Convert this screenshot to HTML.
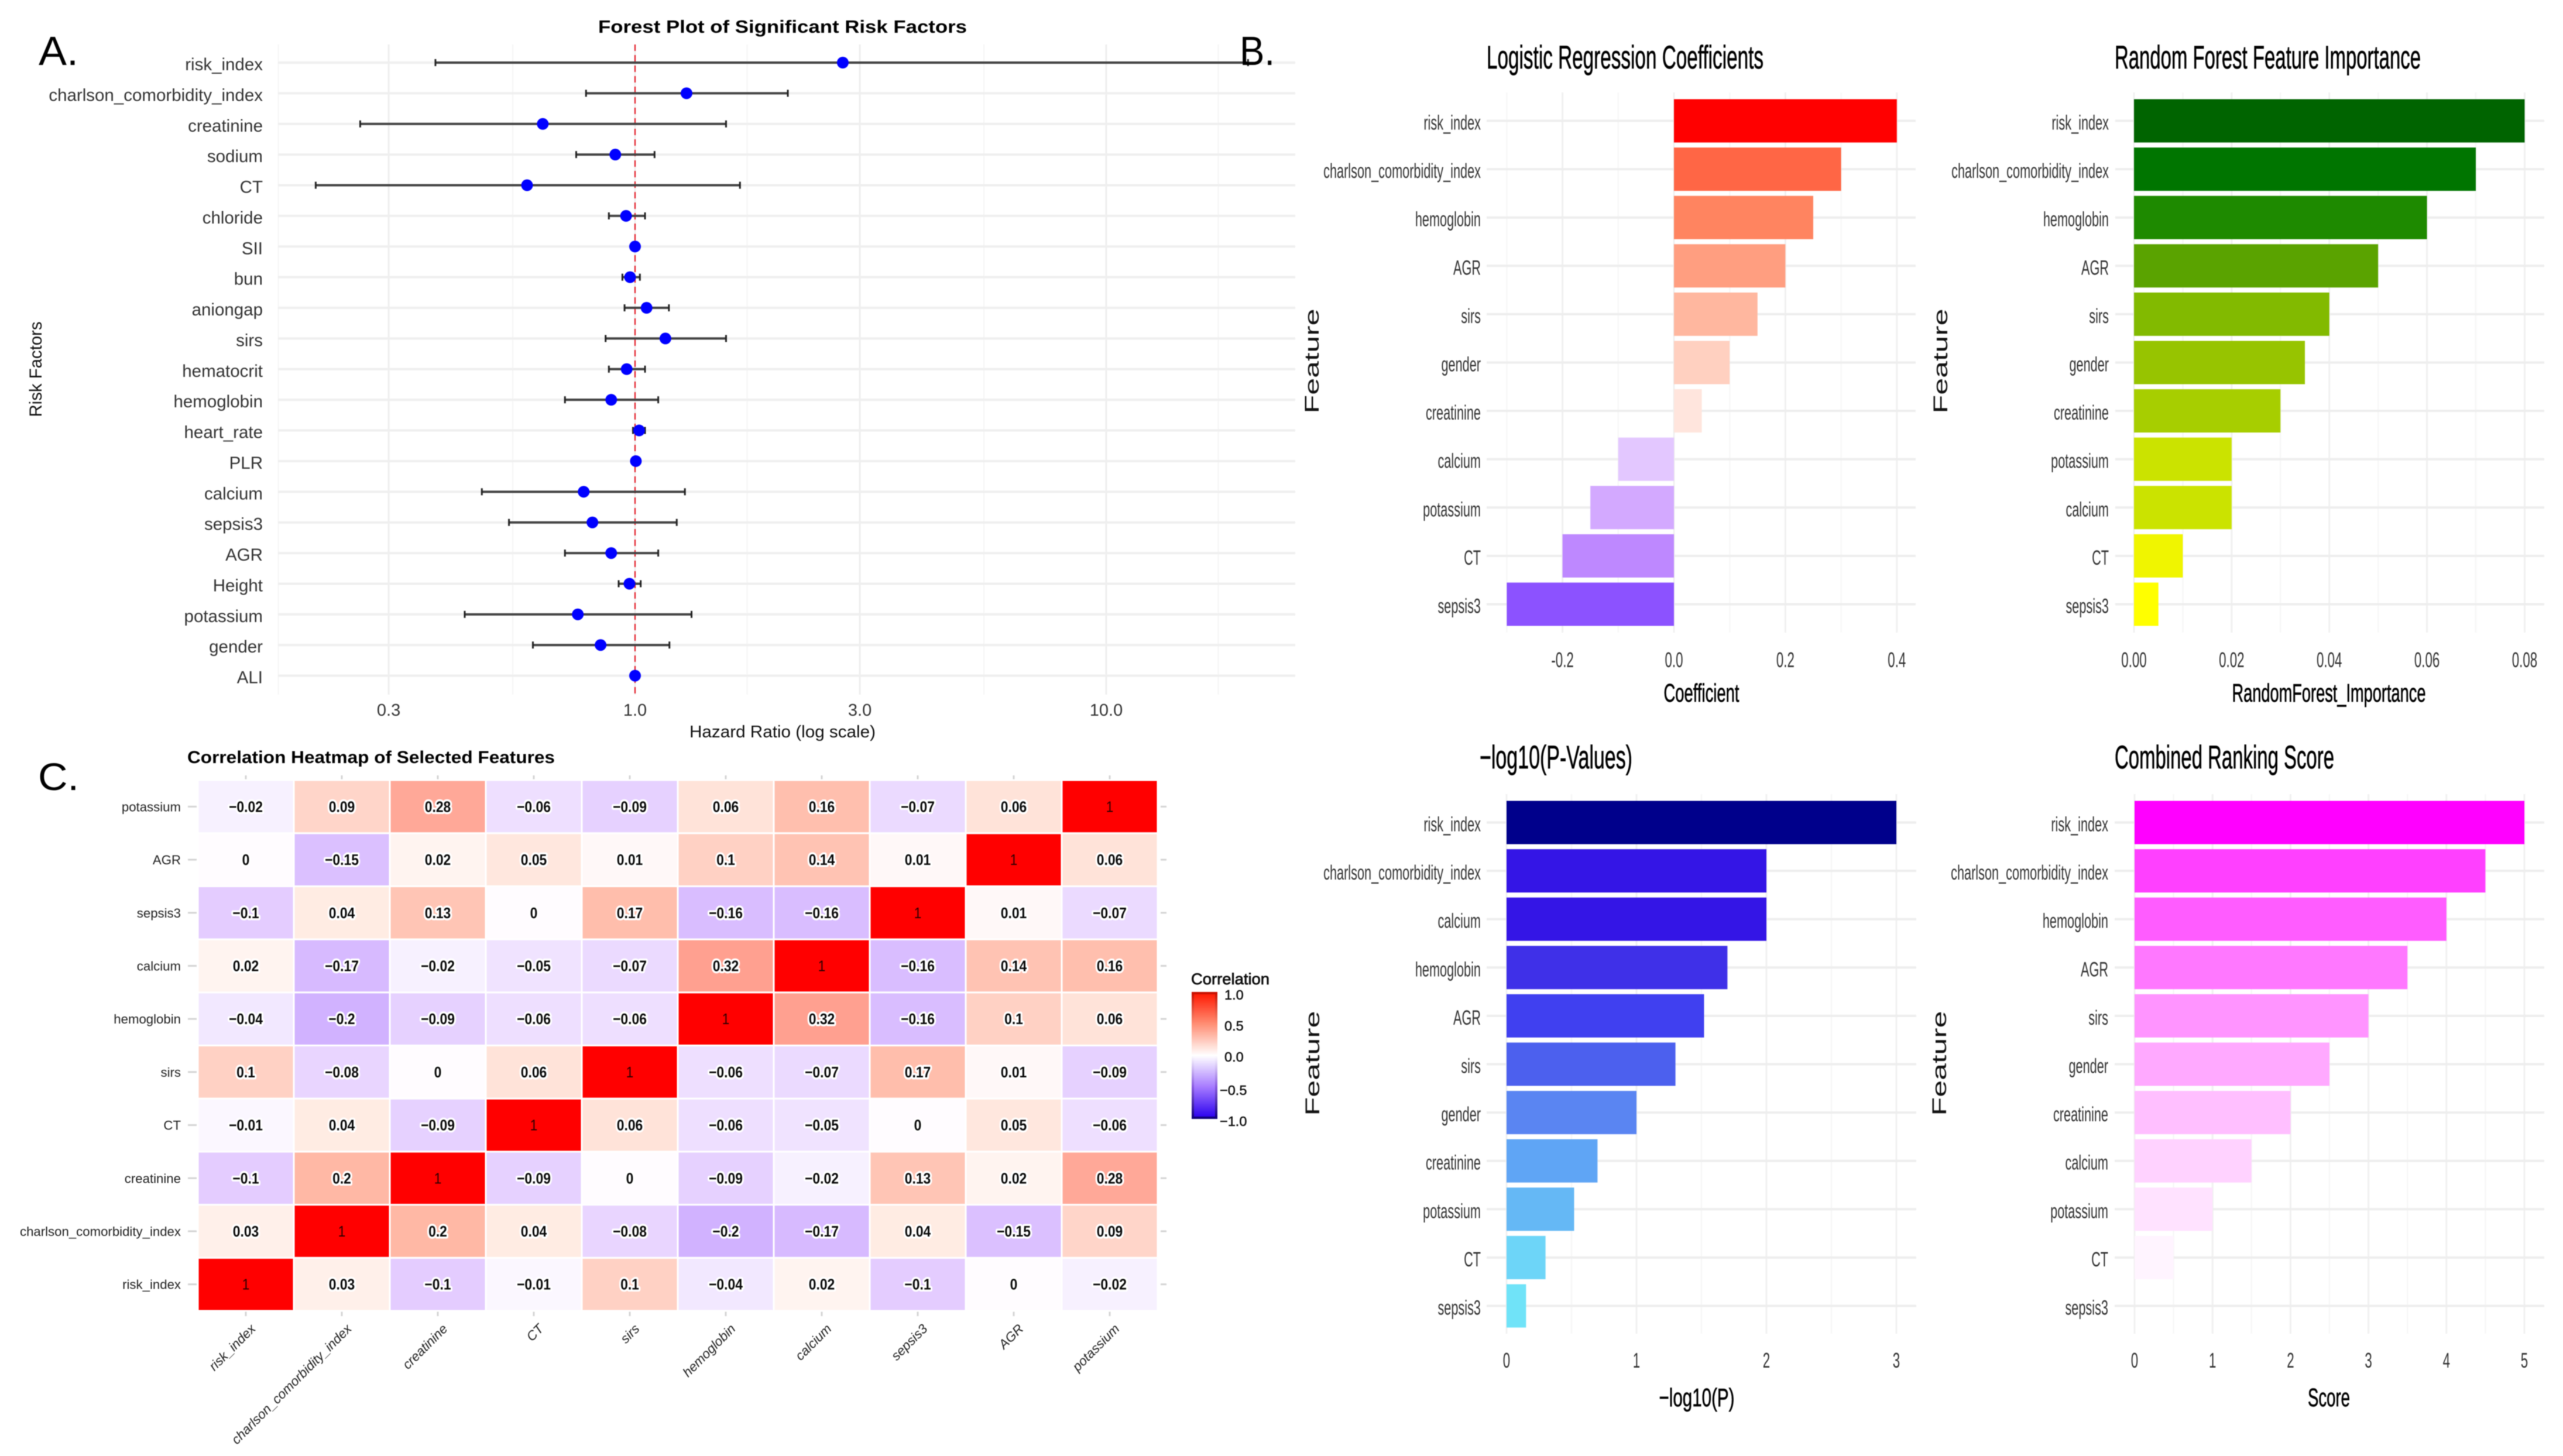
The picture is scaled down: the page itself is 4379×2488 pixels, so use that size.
<!DOCTYPE html>
<html lang="en">
<head>
<meta charset="utf-8">
<title>Risk factor figure</title>
<style>
html,body{margin:0;padding:0;background:#fff;width:4379px;height:2488px;overflow:hidden}
svg{display:block;font-family:"Liberation Sans",sans-serif;filter:blur(0.9px)}
.heavy{stroke:#000;stroke-width:0.7px}
</style>
</head>
<body>
<svg id="fig" xmlns="http://www.w3.org/2000/svg" width="4379" height="2488" viewBox="0 0 4379 2488">
  <defs>
    <linearGradient id="corr-grad" x1="0" y1="0" x2="0" y2="1">
      <stop offset="0" stop-color="#ff1800"/>
      <stop offset="0.25" stop-color="#ff8f75"/>
      <stop offset="0.5" stop-color="#ffffff"/>
      <stop offset="0.75" stop-color="#a77cff"/>
      <stop offset="1" stop-color="#2a00ee"/>
    </linearGradient>
    <linearGradient id="corr-edge" x1="0" y1="0" x2="0" y2="1">
      <stop offset="0" stop-color="#c81000"/>
      <stop offset="0.25" stop-color="#ff8f75"/>
      <stop offset="0.5" stop-color="#ffffff"/>
      <stop offset="0.75" stop-color="#8a5ce0"/>
      <stop offset="1" stop-color="#10007a"/>
    </linearGradient>
  </defs>
  <rect x="-10" y="-10" width="4399" height="2508" fill="#fff"/>
  <g id="forest"></g>
  <g id="heat"></g>
  <rect x="2213" y="0" width="2166" height="2488" fill="#fff"/>
  <g id="bars"></g>

  <text x="66" y="111" font-size="70" textLength="68" lengthAdjust="spacingAndGlyphs" fill="#000">A.</text>
  <text x="2118" y="111" font-size="70" textLength="60" lengthAdjust="spacingAndGlyphs" fill="#000">B.</text>
  <text x="65" y="1350" font-size="66" textLength="70" lengthAdjust="spacingAndGlyphs" fill="#000">C.</text>

  <text x="1337" y="56" font-size="31" font-weight="700" text-anchor="middle" textLength="630" lengthAdjust="spacingAndGlyphs" fill="#000">Forest Plot of Significant Risk Factors</text>
  <text x="1337" y="1260" font-size="29" text-anchor="middle" textLength="318" lengthAdjust="spacingAndGlyphs" fill="#111">Hazard Ratio (log scale)</text>
  <text transform="translate(71,631) rotate(-90)" font-size="30" text-anchor="middle" textLength="163" lengthAdjust="spacingAndGlyphs" fill="#111">Risk Factors</text>

  <text x="320" y="1304" font-size="30" font-weight="700" textLength="628" lengthAdjust="spacingAndGlyphs" fill="#000">Correlation Heatmap of Selected Features</text>
  <text x="2035" y="1682" font-size="27" textLength="134" lengthAdjust="spacingAndGlyphs" fill="#111" class="heavy">Correlation</text>
  <rect x="2038" y="1697" width="40" height="213" fill="url(#corr-grad)" stroke="url(#corr-edge)" stroke-width="4"/>

  <text x="2540" y="117" font-size="56" textLength="473" lengthAdjust="spacingAndGlyphs" fill="#000" class="heavy">Logistic Regression Coefficients</text>
  <text x="2907" y="1199" font-size="44" text-anchor="middle" textLength="129" lengthAdjust="spacingAndGlyphs" fill="#000" class="heavy">Coefficient</text>
  <text transform="translate(2253,617) rotate(-90)" font-size="34" text-anchor="middle" textLength="179" lengthAdjust="spacingAndGlyphs" fill="#111">Feature</text>

  <text x="3613" y="117" font-size="56" textLength="523" lengthAdjust="spacingAndGlyphs" fill="#000" class="heavy">Random Forest Feature Importance</text>
  <text x="3979" y="1199" font-size="44" text-anchor="middle" textLength="331" lengthAdjust="spacingAndGlyphs" fill="#000" class="heavy">RandomForest_Importance</text>
  <text transform="translate(3327,617) rotate(-90)" font-size="34" text-anchor="middle" textLength="179" lengthAdjust="spacingAndGlyphs" fill="#111">Feature</text>

  <text x="2528" y="1313" font-size="56" textLength="261" lengthAdjust="spacingAndGlyphs" fill="#000" class="heavy">−log10(P-Values)</text>
  <text x="2899" y="2403" font-size="44" text-anchor="middle" textLength="129" lengthAdjust="spacingAndGlyphs" fill="#000" class="heavy">−log10(P)</text>
  <text transform="translate(2254,1817) rotate(-90)" font-size="34" text-anchor="middle" textLength="179" lengthAdjust="spacingAndGlyphs" fill="#111">Feature</text>

  <text x="3613" y="1313" font-size="56" textLength="375" lengthAdjust="spacingAndGlyphs" fill="#000" class="heavy">Combined Ranking Score</text>
  <text x="3979" y="2403" font-size="44" text-anchor="middle" textLength="72" lengthAdjust="spacingAndGlyphs" fill="#000" class="heavy">Score</text>
  <text transform="translate(3325,1817) rotate(-90)" font-size="34" text-anchor="middle" textLength="179" lengthAdjust="spacingAndGlyphs" fill="#111">Feature</text>
</svg>
<script>
// ---------- Forest plot data ----------
const forestLabels = ["risk_index","charlson_comorbidity_index","creatinine","sodium","CT","chloride","SII","bun","aniongap","sirs","hematocrit","hemoglobin","heart_rate","PLR","calcium","sepsis3","AGR","Height","potassium","gender","ALI"];
const forestHR = [2.76,1.286,0.637,0.908,0.59,0.957,1.0,0.976,1.058,1.16,0.96,0.89,1.02,1.004,0.778,0.812,0.89,0.973,0.756,0.845,1.0];
const forestLow = [0.377,0.787,0.261,0.75,0.21,0.88,0.995,0.94,0.95,0.866,0.88,0.71,0.99,0.995,0.473,0.54,0.71,0.923,0.435,0.607,0.995];
const forestHigh = [20,2.11,1.56,1.10,1.67,1.05,1.005,1.024,1.18,1.56,1.05,1.12,1.05,1.012,1.276,1.226,1.12,1.028,1.318,1.183,1.005];
const forestTicks = [0.3,1,3,10];
const forestTickLabels = ["0.3","1.0","3.0","10.0"];
const forestMinorTicks = [0.175,0.55,1.73,5.5,17.3];

// ---------- Heatmap data ----------
const heatLabels = ["risk_index","charlson_comorbidity_index","creatinine","CT","sirs","hemoglobin","calcium","sepsis3","AGR","potassium"];
const heatRisk = [1,0.03,-0.1,-0.01,0.1,-0.04,0.02,-0.1,0,-0.02];
const heatCharlson = [0.03,1,0.2,0.04,-0.08,-0.2,-0.17,0.04,-0.15,0.09];
const heatCreatinine = [-0.1,0.2,1,-0.09,0,-0.09,-0.02,0.13,0.02,0.28];
const heatCT = [-0.01,0.04,-0.09,1,0.06,-0.06,-0.05,0,0.05,-0.06];
const heatSirs = [0.1,-0.08,0,0.06,1,-0.06,-0.07,0.17,0.01,-0.09];
const heatHemoglobin = [-0.04,-0.2,-0.09,-0.06,-0.06,1,0.32,-0.16,0.1,0.06];
const heatCalcium = [0.02,-0.17,-0.02,-0.05,-0.07,0.32,1,-0.16,0.14,0.16];
const heatSepsis = [-0.1,0.04,0.13,0,0.17,-0.16,-0.16,1,0.01,-0.07];
const heatAGR = [0,-0.15,0.02,0.05,0.01,0.1,0.14,0.01,1,0.06];
const heatPotassium = [-0.02,0.09,0.28,-0.06,-0.09,0.06,0.16,-0.07,0.06,1];
const heatRows = [heatRisk,heatCharlson,heatCreatinine,heatCT,heatSirs,heatHemoglobin,heatCalcium,heatSepsis,heatAGR,heatPotassium];
const legendTicks = [1,0.5,0,-0.5,-1];
const legendTickLabels = ["1.0","0.5","0.0","−0.5","−1.0"];

// ---------- Bar panel data ----------
const coefLabels = ["risk_index","charlson_comorbidity_index","hemoglobin","AGR","sirs","gender","creatinine","calcium","potassium","CT","sepsis3"];
const coefValues = [0.4,0.3,0.25,0.2,0.15,0.1,0.05,-0.1,-0.15,-0.2,-0.3];
const coefTicks = [-0.2,0,0.2,0.4];
const coefTickLabels = ["-0.2","0.0","0.2","0.4"];
const coefMinor = [-0.3,-0.1,0.1,0.3];

const rfLabels = ["risk_index","charlson_comorbidity_index","hemoglobin","AGR","sirs","gender","creatinine","potassium","calcium","CT","sepsis3"];
const rfValues = [0.08,0.07,0.06,0.05,0.04,0.035,0.03,0.02,0.02,0.01,0.005];
const rfTicks = [0,0.02,0.04,0.06,0.08];
const rfTickLabels = ["0.00","0.02","0.04","0.06","0.08"];
const rfMinor = [0.01,0.03,0.05,0.07];

const pLabels = ["risk_index","charlson_comorbidity_index","calcium","hemoglobin","AGR","sirs","gender","creatinine","potassium","CT","sepsis3"];
const pValues = [3,2,2,1.7,1.52,1.3,1,0.7,0.52,0.3,0.15];
const pTicks = [0,1,2,3];
const pTickLabels = ["0","1","2","3"];
const pMinor = [0.5,1.5,2.5];

const scoreLabels = ["risk_index","charlson_comorbidity_index","hemoglobin","AGR","sirs","gender","creatinine","calcium","potassium","CT","sepsis3"];
const scoreValues = [5,4.5,4,3.5,3,2.5,2,1.5,1,0.5,0];
const scoreTicks = [0,1,2,3,4,5];
const scoreTickLabels = ["0","1","2","3","4","5"];
const scoreMinor = [0.5,1.5,2.5,3.5,4.5];

// ---------- Helpers ----------
const NS = "http://www.w3.org/2000/svg";
function make(parent, tag, name, props){
  const el = document.createElementNS(NS, tag);
  
  
  for (const k in props) el.setAttribute(k, props[k]);
  parent.appendChild(el);
  return el;
}
function line(parent, name, x1, y1, x2, y2, stroke, w, extra){
  return make(parent, 'line', name, Object.assign({x1, y1, x2, y2, stroke, 'stroke-width': w}, extra || {}));
}
function label(parent, name, x, y, str, size, anchor, sx, fill, extra){
  const el = make(parent, 'text', name, Object.assign({
    transform: 'translate(' + x + ',' + y + ') scale(' + sx + ',1)',
    'font-size': size, 'text-anchor': anchor, fill: fill
  }, extra || {}));
  el.textContent = str;
  return el;
}
function hex(c){ return [parseInt(c.slice(1,3),16), parseInt(c.slice(3,5),16), parseInt(c.slice(5,7),16)]; }
function ramp(stops){
  return function(v){
    if (v <= stops[0][0]) return stops[0][1];
    for (let i = 1; i < stops.length; i++){
      if (v <= stops[i][0]){
        const t = (v - stops[i-1][0]) / (stops[i][0] - stops[i-1][0]);
        const a = hex(stops[i-1][1]), b = hex(stops[i][1]);
        return 'rgb(' + a.map((q, k) => Math.round(q + (b[k] - q) * t)).join(',') + ')';
      }
    }
    return stops[stops.length-1][1];
  };
}
const coefColor = ramp([[-0.3,'#8c52ff'],[-0.2,'#be88ff'],[-0.15,'#d3a9ff'],[-0.1,'#e3c7ff'],[0,'#ffffff'],[0.05,'#ffe5dd'],[0.1,'#ffd0c0'],[0.15,'#ffb79f'],[0.2,'#ff9e80'],[0.25,'#ff8460'],[0.3,'#ff6645'],[0.4,'#ff0000']]);
const rfColor = ramp([[0.005,'#ffff00'],[0.01,'#f0f500'],[0.02,'#cbe300'],[0.03,'#a7ce00'],[0.035,'#97c400'],[0.04,'#82ba00'],[0.05,'#5aa300'],[0.06,'#1e8a00'],[0.07,'#007500'],[0.08,'#006400']]);
const pColor = ramp([[0.15,'#70e3f8'],[0.3,'#6dd5f8'],[0.52,'#65b8f5'],[0.7,'#5fa5f5'],[1,'#5a85f2'],[1.3,'#4c60ee'],[1.52,'#4040f0'],[1.7,'#3f30e8'],[2,'#3415e6'],[3,'#00008b']]);
const scoreColor = ramp([[0,'#ffffff'],[0.5,'#fff4ff'],[1,'#ffe2ff'],[1.5,'#ffd2ff'],[2,'#ffbfff'],[2.5,'#ffa9ff'],[3,'#ff94ff'],[3.5,'#ff78ff'],[4,'#ff5cff'],[4.5,'#ff40ff'],[5,'#ff00ff']]);
const heatColor = ramp([[-1,'#0000ff'],[-0.5,'#9a6bff'],[-0.2,'#d1b2ff'],[-0.15,'#dbc0ff'],[-0.1,'#e4ccff'],[-0.02,'#f7f1ff'],[0,'#fffcff'],[0.02,'#fff4f0'],[0.04,'#ffece3'],[0.09,'#ffd5c9'],[0.13,'#ffc5b5'],[0.2,'#ffb8a5'],[0.28,'#ffa898'],[0.32,'#ffa090'],[1,'#ff0000']]);

// ---------- Forest plot ----------
(function(){
  const g = document.getElementById('forest');
  const left = 475, right = 2213, top = 76, bottom = 1187;
  const xHR = v => 1085 + Math.log10(v) * 805;
  const yRow = i => 107 + i * 52.38;
  forestMinorTicks.forEach(t => line(g, 'forest-minor-gridline', xHR(t), top, xHR(t), bottom, '#f5f5f5', 2));
  forestTicks.forEach((t, i) => {
    line(g, 'forest-major-gridline', xHR(t), top, xHR(t), bottom, '#eeeeee', 3);
    label(g, 'forest-x-tick-label', xHR(t), 1223, forestTickLabels[i], 29, 'middle', 1, '#333');
  });
  forestLabels.forEach((name, i) => {
    line(g, 'forest-row-gridline', left, yRow(i), right, yRow(i), '#efefef', 4);
  });
  line(g, 'hr-reference-line', xHR(1), top, xHR(1), bottom, '#e8303a', 2.5, {'stroke-dasharray': '11 7'});
  forestLabels.forEach((name, i) => {
    const y = yRow(i);
    label(g, 'forest-y-tick-label', 449, y + 13, name, 29.5, 'end', 1, '#333');
    line(g, 'ci-line', xHR(forestLow[i]), y, xHR(forestHigh[i]), y, '#444', 4);
    line(g, 'ci-cap-low', xHR(forestLow[i]), y - 6, xHR(forestLow[i]), y + 6, '#222', 3);
    line(g, 'ci-cap-high', xHR(forestHigh[i]), y - 6, xHR(forestHigh[i]), y + 6, '#222', 3);
    make(g, 'circle', 'hazard-ratio-point', {cx: xHR(forestHR[i]), cy: y, r: 10, fill: '#0000ff'});
  });
})();

// ---------- Heatmap ----------
(function(){
  const g = document.getElementById('heat');
  const left = 338, right = 1978, top = 1333, bottom = 2240, n = heatLabels.length;
  const w = (right - left) / n, h = (bottom - top) / n;
  const xCol = i => left + w * i;
  const yRow = i => bottom - h * (i + 1);
  heatLabels.forEach((name, i) => {
    const cx = xCol(i) + w / 2, cy = yRow(i) + h / 2;
    line(g, 'heatmap-tick-left', 321, cy, 336, cy, '#d4d4d4', 3);
    line(g, 'heatmap-tick-right', 1983, cy, 1993, cy, '#d4d4d4', 3);
    line(g, 'heatmap-tick-top', cx, 1325, cx, 1332, '#d4d4d4', 3);
    line(g, 'heatmap-tick-bottom', cx, 2241, cx, 2249, '#d4d4d4', 3);
    label(g, 'heatmap-y-label', 309, cy + 8, name, 22.2, 'end', 1, '#222');
    const t = make(g, 'text', 'heatmap-x-label', {
      transform: 'translate(' + (cx + 18) + ',2272) rotate(-45)',
      'font-size': 22.5, 'font-style': 'italic', 'text-anchor': 'end', fill: '#222'
    });
    t.textContent = name;
  });
  heatRows.forEach((row, r) => {
    row.forEach((v, c) => {
      make(g, 'rect', 'heatmap-cell', {x: xCol(c), y: yRow(r), width: w, height: h, fill: heatColor(v), stroke: '#fff', 'stroke-width': 3});
    });
  });
  heatRows.forEach((row, r) => {
    row.forEach((v, c) => {
      const s = String(v).replace('-0.', '−0.');
      const extra = Math.abs(v) < 1 ? {'paint-order': 'stroke', stroke: '#fff', 'stroke-width': 7, 'stroke-linejoin': 'round', 'font-weight': 700} : {'font-weight': 400};
      label(g, 'heatmap-value', xCol(c) + w / 2, yRow(r) + h / 2 + 9, s, 26, 'middle', 0.88, v === 1 ? '#300000' : '#0a0a0a', extra);
    });
  });
  const yLegend = v => 1806 - v * 106;
  legendTicks.forEach((v, i) => {
    line(g, 'legend-tick-left', 2037, yLegend(v), 2045, yLegend(v), '#fff', 2);
    line(g, 'legend-tick-right', 2071, yLegend(v), 2079, yLegend(v), '#fff', 2);
    label(g, 'legend-tick-label', v < 0 ? 2084 : 2092, yLegend(v) + (v < 0 ? 12 : 8), legendTickLabels[i], 23.5, 'start', 1, '#111', {stroke: '#111', 'stroke-width': 0.5});
  });
})();

// ---------- Bar panels ----------
function barPanel(opts){
  const host = document.getElementById('bars');
  const g = make(host, 'g', opts.name, {});
  const x = v => opts.zero + v * opts.unit;
  const y = i => opts.firstRow + i * 82.6;
  opts.minor.forEach(t => line(g, 'minor-gridline', x(t), opts.top, x(t), opts.bottom, '#f7f7f7', 2.5));
  opts.ticks.forEach((t, i) => {
    line(g, 'major-gridline', x(t), opts.top, x(t), opts.bottom, '#f0f0f0', 3);
    label(g, 'x-tick-label', x(t), opts.tickY, opts.tickLabels[i], 36, 'middle', 0.62, '#333');
  });
  opts.labels.forEach((name, i) => {
    line(g, 'row-gridline', opts.left, y(i), opts.right, y(i), '#eeeeee', 4);
  });
  opts.labels.forEach((name, i) => {
    label(g, 'y-tick-label', opts.labelX, y(i) + 15, name, 35, 'end', 0.62, '#333');
    const v = opts.values[i];
    make(g, 'rect', 'bar-' + name, {
      x: Math.min(x(0), x(v)), y: y(i) - 37,
      width: Math.abs(x(v) - x(0)), height: 74,
      fill: opts.color(v)
    });
  });
}
barPanel({name:'logistic-coefficients-chart', labels:coefLabels, values:coefValues, ticks:coefTicks, tickLabels:coefTickLabels, minor:coefMinor, color:coefColor, zero:2860, unit:952, left:2540, right:3273, top:158, bottom:1081, firstRow:206.5, labelX:2530, tickY:1140});
barPanel({name:'random-forest-importance-chart', labels:rfLabels, values:rfValues, ticks:rfTicks, tickLabels:rfTickLabels, minor:rfMinor, color:rfColor, zero:3646, unit:8343, left:3614, right:4347, top:158, bottom:1081, firstRow:206.5, labelX:3603, tickY:1140});
barPanel({name:'log-p-values-chart', labels:pLabels, values:pValues, ticks:pTicks, tickLabels:pTickLabels, minor:pMinor, color:pColor, zero:2574, unit:222, left:2540, right:3274, top:1357, bottom:2279, firstRow:1405.5, labelX:2530, tickY:2337});
barPanel({name:'combined-ranking-chart', labels:scoreLabels, values:scoreValues, ticks:scoreTicks, tickLabels:scoreTickLabels, minor:scoreMinor, color:scoreColor, zero:3647, unit:133.2, left:3613, right:4347, top:1357, bottom:2279, firstRow:1405.5, labelX:3602, tickY:2337});
</script>
</body>
</html>
